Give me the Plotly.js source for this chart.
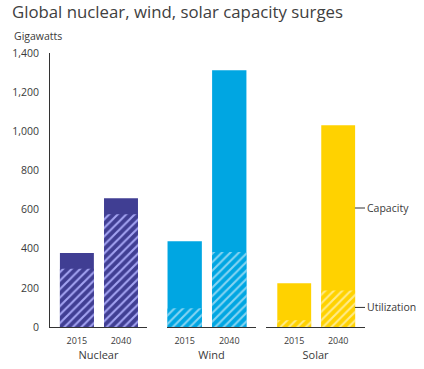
<!DOCTYPE html>
<html>
<head>
<meta charset="utf-8">
<script src="https://cdn.plot.ly/plotly-3.0.1.min.js"></script>
<style>html,body{margin:0;padding:0;background:#fff;}#chart{width:424px;height:369px;}</style>
</head>
<body>
<div id="chart"></div>
<script>
const years = ['2015', '2040'];
const groups = ['Nuclear', 'Wind', 'Solar'];
const capacity = {
  Nuclear: [378, 658],
  Wind: [438, 1312],
  Solar: [223, 1031]
};
const utilization = {
  Nuclear: [298, 576],
  Wind: [96, 383],
  Solar: [34, 187]
};
const yTicks = [0, 200, 400, 600, 800, 1000, 1200, 1400];

const colors = { Nuclear: '#403E93', Wind: '#00A6E2', Solar: '#FFD200' };
const hatch = { Nuclear: '#A3A3F2', Wind: '#86D4F2', Solar: '#FFEB8A' };
const axisIds = ['x', 'x2', 'x3'];
const axisNames = ['xaxis', 'xaxis2', 'xaxis3'];
const domains = [[0, 0.308], [0.371, 0.654], [0.686, 1]];
const ranges = [[-0.61, 1.59], [-0.4, 1.6], [-0.64, 1.61]];
const FONT = 'Open Sans, sans-serif';
const TXT = '#3a3a3a';

const traces = [];
groups.forEach((g, i) => {
  traces.push({
    type: 'bar', x: years, y: capacity[g], xaxis: axisIds[i], yaxis: 'y',
    width: 0.77, marker: { color: colors[g], line: { width: 0 } },
    showlegend: false, hoverinfo: 'y'
  });
  traces.push({
    type: 'bar', x: years, y: utilization[g], xaxis: axisIds[i], yaxis: 'y',
    width: 0.77,
    marker: { color: colors[g], line: { width: 0 },
      pattern: { shape: '/', fgcolor: hatch[g], bgcolor: colors[g], size: 6, solidity: 0.35 } },
    showlegend: false, hoverinfo: 'y'
  });
});

const layout = {
  width: 424, height: 369,
  margin: { l: 50, r: 59, t: 53, b: 42 },
  paper_bgcolor: '#fff', plot_bgcolor: '#fff',
  barmode: 'overlay',
  font: { family: FONT, color: TXT, size: 11 },
  title: { text: 'Global nuclear, wind, solar capacity surges', x: 12 / 424, xref: 'container', xanchor: 'left',
    y: 1 - 6 / 369, yref: 'container', yanchor: 'top', pad: { t: 0, b: 0, l: 0, r: 0 },
    font: { family: FONT, size: 16.8, color: '#404040' } },
  yaxis: {
    range: [0, 1400], tickvals: yTicks, tickformat: ',', showgrid: false, zeroline: false,
    showline: true, linecolor: '#333', linewidth: 1,
    ticks: 'outside', ticklen: 8, tickcolor: 'rgba(0,0,0,0)',
    tickfont: { family: FONT, size: 10.5, color: TXT }, fixedrange: true
  },
  annotations: [
    { text: 'Gigawatts', xref: 'paper', yref: 'paper', x: 0, y: 1, xanchor: 'left', yanchor: 'bottom',
      xshift: -38, yshift: 8, showarrow: false, font: { family: FONT, size: 10.5, color: TXT } },
    { text: 'Capacity', xref: 'paper', yref: 'y', x: 1, y: 608, xanchor: 'left', yanchor: 'middle',
      showarrow: false, font: { family: FONT, size: 10.5, color: TXT } },
    { text: 'Utilization', xref: 'paper', yref: 'y', x: 1, y: 100, xanchor: 'left', yanchor: 'middle',
      showarrow: false, font: { family: FONT, size: 10.5, color: TXT } }
  ],
  shapes: [
    { type: 'line', xref: 'paper', yref: 'y', x0: 0.968, x1: 1.0, y0: 608, y1: 608, line: { color: '#333', width: 1 } },
    { type: 'line', xref: 'paper', yref: 'y', x0: 0.968, x1: 1.0, y0: 100, y1: 100, line: { color: '#333', width: 1 } }
  ]
};
groups.forEach((g, i) => {
  layout[axisNames[i]] = {
    domain: domains[i], anchor: 'y', type: 'category', range: ranges[i],
    showline: true, linecolor: '#333', linewidth: 1, showgrid: false, zeroline: false,
    ticks: 'outside', ticklen: 5, tickcolor: 'rgba(0,0,0,0)',
    tickfont: { family: FONT, size: 9, color: TXT },
    title: { text: g, standoff: 0, font: { family: FONT, size: 11, color: TXT } }, fixedrange: true
  };
});

Plotly.newPlot('chart', traces, layout, { displayModeBar: false, staticPlot: true });
</script>
</body>
</html>
